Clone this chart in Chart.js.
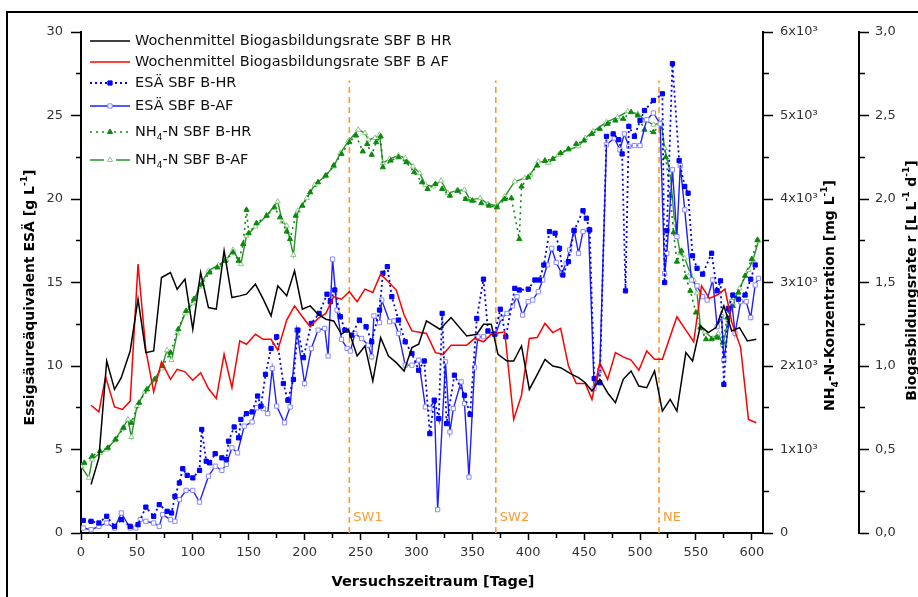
<!DOCTYPE html>
<html>
<head>
<meta charset="utf-8">
<script src="https://cdn.jsdelivr.net/npm/chart.js@4.4.1/dist/chart.umd.min.js"></script>
<style>
  html, body { margin: 0; padding: 0; background: #fff; }
  canvas { display: block; }
</style>
</head>
<body>
<canvas id="chart" width="918" height="597"></canvas>
<script>
// ===========================
// Data
// ===========================

// Weekly mean biogas formation rate, HR [L L-1 d-1]
const bioDaysHR = [9,16,23,30,36,44,51,58,65,72,
  80,86,93,100,107,114,121,128,135,142,
  148,156,163,170,176,184,191,198,205,212,
  219,226,233,239,247,254,261,268,275,282,
  289,296,302,309,321,331,345,354,360,367,
  373,381,387,394,401,409,415,422,429,439,
  445,451,457,464,471,478,485,492,499,506,
  513,520,527,533,541,547,554,561,568,575,
  582,589,596,604];
const bioHR = [0.29,0.45,1.03,0.86,0.93,1.09,1.40,1.08,1.09,1.53,
  1.56,1.46,1.52,1.22,1.56,1.35,1.34,1.69,1.41,1.42,
  1.43,1.49,1.40,1.30,1.48,1.42,1.57,1.34,1.36,1.31,
  1.28,1.27,1.19,1.22,1.06,1.12,0.91,1.17,1.06,1.02,
  0.97,1.11,1.13,1.27,1.22,1.29,1.18,1.19,1.25,1.25,
  1.07,1.03,1.03,1.12,0.86,0.96,1.04,1.00,0.99,0.95,
  0.93,0.90,0.85,0.92,0.84,0.78,0.92,0.97,0.88,0.87,
  0.97,0.73,0.80,0.73,1.08,1.03,1.24,1.20,1.23,1.36,
  1.21,1.23,1.15,1.16];

// Weekly mean biogas formation rate, AF [L L-1 d-1]
const bioDaysAF = [9,16,22,30,37,44,51,58,65,72,
  80,86,93,100,107,114,121,128,135,142,
  148,156,163,170,176,184,191,198,205,212,
  219,226,233,240,247,254,261,268,275,282,
  289,296,309,317,324,331,345,352,360,367,
  379,387,394,401,408,415,422,429,436,443,
  451,457,464,471,478,485,492,499,506,513,
  520,533,541,548,555,562,569,576,582,590,
  597,604];
const bioAF = [0.765,0.725,0.935,0.755,0.74,0.79,1.61,1.095,0.845,1.025,
  0.92,0.98,0.965,0.915,0.96,0.865,0.805,1.07,0.87,1.15,
  1.13,1.19,1.16,1.16,1.095,1.275,1.36,1.295,1.235,1.285,
  1.315,1.415,1.40,1.445,1.385,1.46,1.44,1.55,1.505,1.455,
  1.305,1.21,1.195,1.08,1.07,1.125,1.125,1.165,1.145,1.19,
  1.205,0.68,0.825,1.165,1.17,1.255,1.20,1.225,1.00,0.895,
  0.895,0.80,1.02,0.92,1.08,1.055,1.035,0.975,1.09,1.04,
  1.04,1.295,1.215,1.145,1.48,1.405,1.425,1.46,1.265,1.11,
  0.68,0.66];

// Acetic acid equivalent (ESÄ), HR [g L-1]
const esaDaysHR = [2,9,16,23,30,36,44,51,58,65,
  70,77,81,84,88,91,95,100,106,108,
  112,115,120,126,130,132,137,141,143,148,
  153,158,161,165,170,175,181,185,190,194,
  199,206,213,220,223,227,232,236,242,249,
  255,260,267,270,274,278,284,290,296,302,
  307,312,316,320,323,327,334,343,348,354,
  360,364,370,375,380,388,392,400,406,410,
  414,419,424,428,431,436,441,449,452,455,
  459,464,470,476,481,484,487,490,495,500,
  504,512,520,522,524,529,535,540,543,547,
  551,556,564,569,572,575,579,583,588,594,
  599,603];
const esaHR = [0.75,0.7,0.6,1.0,0.4,0.8,0.4,0.5,1.55,1.0,
  1.7,1.3,1.2,2.2,3.0,3.85,3.45,3.3,3.75,6.2,
  4.3,4.2,4.75,4.5,4.4,5.5,6.35,5.7,6.8,7.15,
  7.25,8.2,7.6,9.5,11.05,11.75,8.95,7.95,9.2,12.15,
  10.5,12.55,13.15,14.3,13.85,14.55,12.95,12.15,11.85,12.75,
  12.35,11.45,13.35,15.55,15.95,14.15,12.75,11.45,10.75,9.75,
  10.3,5.95,7.95,6.85,13.15,6.55,9.45,8.25,7.1,12.85,
  15.2,12.1,11.9,13.4,11.75,14.65,14.55,14.6,15.15,15.15,
  16.05,18.05,17.95,17.05,15.45,16.25,18.1,19.3,18.85,18.15,
  9.25,9.0,23.75,23.9,23.55,22.7,14.5,24.35,23.75,24.7,
  25.3,25.9,26.3,15.0,18.1,28.1,22.3,20.75,20.35,16.6,
  15.85,15.5,16.75,14.5,15.1,8.9,13.45,14.25,14.0,14.25,
  15.2,16.05];

// Acetic acid equivalent (ESÄ), AF [g L-1]
const esaDaysAF = [2,9,16,23,30,36,44,49,53,58,
  65,70,73,80,84,88,94,100,106,114,
  120,126,130,135,140,146,153,157,163,167,
  171,175,182,187,193,200,206,212,218,221,
  225,229,233,238,241,245,251,257,260,262,
  267,269,276,280,284,290,296,302,308,312,
  316,319,326,330,333,340,343,347,352,355,
  360,364,371,376,381,386,390,395,400,404,
  409,413,417,421,425,430,434,437,441,445,
  449,454,459,464,470,477,482,486,490,495,
  500,506,512,518,522,524,529,533,536,540,
  546,551,556,560,565,569,573,575,582,585,
  590,595,599,603,606];
const esaAF = [0.3,0.2,0.4,0.6,0.3,1.2,0.3,0.3,0.8,0.7,
  0.6,0.4,1.1,0.8,0.7,2.0,2.55,2.55,1.85,3.4,
  4.0,3.75,4.1,5.1,4.8,6.4,6.65,7.5,7.45,7.15,
  9.85,7.6,6.6,7.55,12.15,8.95,11.05,12.15,12.25,10.6,
  16.4,13.35,11.6,11.05,10.9,11.95,11.65,11.25,10.55,13.0,
  12.6,13.95,12.65,12.7,11.95,10.05,10.05,10.35,7.55,7.45,
  7.95,1.4,10.25,6.05,7.45,9.05,7.75,3.35,9.9,11.75,
  11.75,11.85,11.95,12.85,13.15,13.6,14.15,13.05,13.85,13.95,
  14.45,15.15,16.05,17.05,16.2,15.55,16.15,16.95,18.15,16.75,
  18.05,18.15,8.65,9.75,23.25,23.65,22.95,23.9,23.15,23.2,
  23.2,24.75,25.15,24.5,15.55,16.75,21.75,17.75,22.0,19.35,
  15.15,14.8,14.15,13.95,15.15,12.35,12.95,10.35,13.85,11.95,
  13.85,13.85,12.9,14.85,15.25];

// NH4-N concentration, HR [mg L-1]
const nh4DaysHR = [3,10,17,24,31,38,45,52,59,66,
  73,80,87,94,101,108,115,122,129,136,
  141,145,148,150,157,166,173,178,184,187,
  192,198,205,212,219,226,233,240,246,252,
  256,260,264,268,270,277,284,291,298,305,
  310,317,323,330,337,344,350,358,365,372,
  379,385,392,394,400,408,415,422,429,436,
  443,450,457,464,471,478,485,492,498,504,
  512,519,523,527,530,533,537,541,545,550,
  554,559,564,569,574,578,583,588,594,600,
  605];
const nh4HR = [840,920,980,1020,1120,1260,1320,1560,1720,1840,
  2000,2160,2440,2660,2800,2980,3120,3180,3260,3360,
  3260,3460,3870,3590,3710,3800,3900,3780,3610,3520,
  3800,3920,4080,4200,4280,4400,4540,4680,4760,4570,
  4660,4530,4680,4750,4380,4460,4500,4440,4320,4200,
  4120,4180,4120,4040,4100,4000,3980,3950,3920,3900,
  4000,4010,3520,4150,4260,4400,4460,4480,4550,4600,
  4660,4700,4780,4840,4900,4940,4960,5040,5000,4830,
  4800,4900,4500,4040,3600,3250,3380,3060,2900,2640,
  2460,2320,2320,2340,2280,2580,2720,2880,3080,3280,
  3510];

// NH4-N concentration, AF [mg L-1]
const nh4DaysAF = [0,7,10,17,23,30,37,42,45,50,
  57,65,72,77,81,86,93,100,106,114,
  123,130,136,143,148,156,166,176,180,184,
  190,194,202,209,218,226,232,239,248,254,
  257,263,267,270,276,284,290,297,303,308,
  315,322,328,336,343,348,357,364,372,379,
  388,397,402,409,418,427,436,445,451,458,
  470,480,489,498,505,512,519,522,527,531,
  536,540,545,548,551,554,558,565,570,574,
  579,583,589,597,601,606];
const nh4AF = [800,660,880,960,1000,1110,1250,1360,1150,1520,
  1690,1830,1970,2190,2070,2390,2630,2750,2950,3140,
  3210,3270,3390,3220,3560,3670,3800,3970,3730,3680,
  3330,3860,4010,4170,4270,4390,4550,4690,4830,4790,
  4710,4730,4770,4430,4480,4520,4490,4390,4310,4170,
  4150,4220,4070,4100,4110,3990,4010,3940,3920,4030,
  4210,4250,4290,4450,4430,4530,4590,4630,4730,4810,
  4920,4980,5050,5020,4940,4890,4910,4610,4310,3710,
  3350,3290,3110,3030,2870,2470,2410,2330,2390,2250,
  2550,2750,2930,3150,3270,3500];

// Process events (vertical dashed markers)
const eventDays = [240, 371, 517];
const eventLabels = ['SW1', 'SW2', 'NE'];
const eventTop = 27.1;

// ===========================
// Helpers
// ===========================

const FONT = '"DejaVu Sans", Verdana, sans-serif';
const ORANGE = '#ff9a2e';

const toPoints = (days, vals) => days.map((d, i) => ({ x: d, y: vals[i] }));

// Draws text with sub/superscript pieces: segs = [[text, 'sub'|'sup'|undefined], ...]
function drawRich(ctx, segs, x, y, size, bold, align) {
  const w8 = bold ? 'bold ' : '';
  const big = w8 + size + 'px ' + FONT;
  const small = w8 + Math.round(size * 0.65) + 'px ' + FONT;
  let width = 0;
  segs.forEach(s => { ctx.font = s[1] ? small : big; width += ctx.measureText(s[0]).width; });
  let cx = align === 'center' ? x - width / 2 : x;
  ctx.textAlign = 'left';
  ctx.textBaseline = 'middle';
  segs.forEach(s => {
    ctx.font = s[1] ? small : big;
    const dy = s[1] === 'sub' ? size * 0.38 : s[1] === 'sup' ? -size * 0.38 : 0;
    ctx.fillText(s[0], cx, y + dy);
    cx += ctx.measureText(s[0]).width;
  });
}

function drawMarker(ctx, style, x, y, r, fill, stroke) {
  ctx.beginPath();
  if (style === 'rect') {
    const s = Math.SQRT1_2 * r;
    ctx.rect(x - s, y - s, 2 * s, 2 * s);
  } else {
    let rad = 0;
    for (let k = 0; k < 3; k++) {
      const px = x + Math.sin(rad) * r, py = y - Math.cos(rad) * r;
      k === 0 ? ctx.moveTo(px, py) : ctx.lineTo(px, py);
      rad += Math.PI * 2 / 3;
    }
    ctx.closePath();
  }
  ctx.fillStyle = fill;
  ctx.fill();
  ctx.lineWidth = 1;
  ctx.strokeStyle = stroke;
  ctx.stroke();
}

const legendSegs = [
  [['Wochenmittel Biogasbildungsrate SBF B HR']],
  [['Wochenmittel Biogasbildungsrate SBF B AF']],
  [['ESÄ SBF B-HR']],
  [['ESÄ SBF B-AF']],
  [['NH'], ['4', 'sub'], ['-N SBF B-HR']],
  [['NH'], ['4', 'sub'], ['-N SBF B-AF']]
];
const legendRowY = [41, 62, 83, 106, 132, 160];

// ===========================
// Decoration plugin: frame, titles, legend, event labels
// ===========================

const decorations = {
  id: 'decorations',
  beforeDraw(chart) {
    const ctx = chart.ctx;
    ctx.save();
    ctx.fillStyle = '#fff';
    ctx.fillRect(0, 0, chart.width, chart.height);
    ctx.strokeStyle = '#000';
    ctx.lineWidth = 2;
    ctx.strokeRect(7, 12, chart.width + 40, chart.height + 40);
    ctx.restore();
  },
  afterDraw(chart) {
    const ctx = chart.ctx;
    const area = chart.chartArea;
    const xs = chart.scales.x;
    ctx.save();
    ctx.fillStyle = '#000';

    // axis titles
    drawRich(ctx, [['Versuchszeitraum [Tage]']], (area.left + area.right) / 2 + 11, 582, 14.5, true, 'center');

    const midY = (area.top + area.bottom) / 2;
    const vTitle = (segs, x, y) => {
      ctx.save();
      ctx.translate(x, y);
      ctx.rotate(-Math.PI / 2);
      drawRich(ctx, segs, 0, 0, 14, true, 'center');
      ctx.restore();
    };
    vTitle([['Essigsäureäquivalent ESÄ [g L'], ['-1', 'sup'], [']']], 30, midY + 15);
    vTitle([['NH'], ['4', 'sub'], ['-N-Konzentration [mg L'], ['-1', 'sup'], [']']],
      chart.scales.yN.right - 29, midY + 13);
    vTitle([['Biogasbildungsrate r [L L'], ['-1', 'sup'], [' d'], ['-1', 'sup'], [']']],
      chart.scales.yB.left + 53, midY - 2);

    // event labels
    ctx.fillStyle = ORANGE;
    ctx.font = '13px ' + FONT;
    ctx.textAlign = 'left';
    ctx.textBaseline = 'middle';
    eventDays.forEach((d, i) => {
      ctx.fillText(eventLabels[i], xs.getPixelForValue(d) + 4, area.bottom - 15);
    });

    // legend
    const x0 = area.left + 9, x1 = area.left + 49;
    legendSegs.forEach((segs, i) => {
      const ds = chart.data.datasets[i];
      const y = legendRowY[i];
      ctx.save();
      ctx.strokeStyle = ds.borderColor;
      ctx.lineWidth = ds.borderWidth;
      ctx.setLineDash(ds.borderDash || []);
      ctx.beginPath();
      if (ds.legendGap) {
        const cx = (x0 + x1) / 2;
        ctx.moveTo(x0, y); ctx.lineTo(cx - 6, y);
        ctx.moveTo(cx + 6, y); ctx.lineTo(x1, y);
      } else {
        ctx.moveTo(x0, y); ctx.lineTo(x1, y);
      }
      ctx.stroke();
      ctx.setLineDash([]);
      if (ds.pointRadius) {
        drawMarker(ctx, ds.pointStyle, (x0 + x1) / 2, y, ds.pointRadius,
          ds.pointBackgroundColor, ds.pointBorderColor);
      }
      ctx.restore();
      ctx.fillStyle = '#111';
      drawRich(ctx, segs, x1 + 5, y, 14.5, false, 'left');
    });
    ctx.restore();
  }
};

// ===========================
// Chart
// ===========================

const tickFont = { family: FONT, size: 13 };
const axisBorder = { display: true, color: '#000', width: 2 };

const eventSets = eventDays.map(d => ({
  data: [{ x: d, y: 0 }, { x: d, y: eventTop }],
  yAxisID: 'y',
  borderColor: ORANGE,
  borderWidth: 1.6,
  borderDash: [6, 4],
  pointRadius: 0
}));

new Chart(document.getElementById('chart'), {
  type: 'line',
  data: {
    datasets: [
      {
        label: 'Wochenmittel Biogasbildungsrate SBF B HR',
        data: toPoints(bioDaysHR, bioHR), yAxisID: 'yB',
        borderColor: '#000000', borderWidth: 1.5, pointRadius: 0
      },
      {
        label: 'Wochenmittel Biogasbildungsrate SBF B AF',
        data: toPoints(bioDaysAF, bioAF), yAxisID: 'yB',
        borderColor: '#ff0000', borderWidth: 1.5, pointRadius: 0
      },
      {
        label: 'ESÄ SBF B-HR',
        data: toPoints(esaDaysHR, esaHR), yAxisID: 'y',
        borderColor: '#0000ff', borderWidth: 1.8, borderDash: [2, 3],
        pointStyle: 'rect', pointRadius: 3,
        pointBackgroundColor: '#0000ff', pointBorderColor: '#0000ff', pointBorderWidth: 1
      },
      {
        label: 'ESÄ SBF B-AF',
        data: toPoints(esaDaysAF, esaAF), yAxisID: 'y',
        borderColor: '#1f1fff', borderWidth: 1.4,
        pointStyle: 'rect', pointRadius: 3,
        pointBackgroundColor: '#ffffff', pointBorderColor: '#8a8aff', pointBorderWidth: 1
      },
      {
        label: 'NH4-N SBF B-HR',
        data: toPoints(nh4DaysHR, nh4HR), yAxisID: 'yN',
        borderColor: '#0a8a0a', borderWidth: 1.6, borderDash: [2, 4],
        pointStyle: 'triangle', pointRadius: 3,
        pointBackgroundColor: '#0a8a0a', pointBorderColor: '#0a8a0a', pointBorderWidth: 1
      },
      {
        label: 'NH4-N SBF B-AF',
        data: toPoints(nh4DaysAF, nh4AF), yAxisID: 'yN',
        borderColor: '#2a922a', borderWidth: 1.4, legendGap: true,
        pointStyle: 'triangle', pointRadius: 3,
        pointBackgroundColor: '#ffffff', pointBorderColor: '#8cc88c', pointBorderWidth: 1
      },
      ...eventSets
    ]
  },
  options: {
    responsive: false,
    animation: false,
    events: [],
    layout: { padding: { left: 0, right: 0, top: 32, bottom: 0 } },
    plugins: { legend: { display: false }, tooltip: { enabled: false } },
    elements: { line: { tension: 0 } },
    scales: {
      x: {
        type: 'linear', position: 'bottom', min: 0, max: 610,
        afterFit: s => { s.height = 64; },
        border: axisBorder,
        grid: {
          drawOnChartArea: false, tickLength: 7, tickWidth: 1.5, tickColor: '#000',
          tickBorderDash: c => (c.tick && c.tick.value % 50 !== 0) ? [4, 30] : []
        },
        ticks: {
          stepSize: 25, includeBounds: false, autoSkip: false, maxRotation: 0,
          padding: 5, color: '#333', font: tickFont,
          callback: v => (v % 50 === 0 ? String(v) : '')
        }
      },
      y: {
        position: 'left', min: 0, max: 30,
        afterFit: s => { s.width = 81; },
        border: axisBorder,
        grid: {
          drawOnChartArea: false, tickLength: 10, tickWidth: 1.5, tickColor: '#000',
          tickBorderDash: c => (c.tick && c.tick.value % 5 !== 0) ? [0, 5, 5, 40] : []
        },
        ticks: {
          stepSize: 2.5, autoSkip: false, padding: 8, color: '#333', font: tickFont,
          callback: v => (v % 5 === 0 ? String(v) : '')
        }
      },
      yN: {
        position: 'right', weight: 0, min: 0, max: 6000,
        afterFit: s => { s.width = 96; },
        border: axisBorder,
        grid: {
          drawOnChartArea: false, tickLength: 10, tickWidth: 1.5, tickColor: '#000',
          tickBorderDash: c => (c.tick && c.tick.value % 1000 !== 0) ? [5, 40] : []
        },
        ticks: {
          stepSize: 500, autoSkip: false, padding: 7, color: '#333', font: tickFont,
          callback: v => (v % 1000 !== 0 ? '' : v === 0 ? '0' : (v / 1000) + 'x10³')
        }
      },
      yB: {
        position: 'right', weight: 1, min: 0, max: 3,
        afterFit: s => { s.width = 59; },
        border: axisBorder,
        grid: {
          drawOnChartArea: false, tickLength: 10, tickWidth: 1.5, tickColor: '#000',
          tickBorderDash: c => (c.tick && Math.abs(c.tick.value * 2 - Math.round(c.tick.value * 2)) > 1e-6) ? [5, 40] : []
        },
        ticks: {
          stepSize: 0.25, autoSkip: false, padding: 6, color: '#333', font: tickFont,
          callback: v => (Math.abs(v * 2 - Math.round(v * 2)) > 1e-6 ? '' : v.toFixed(1).replace('.', ','))
        }
      }
    }
  },
  plugins: [decorations]
});
</script>
</body>
</html>
